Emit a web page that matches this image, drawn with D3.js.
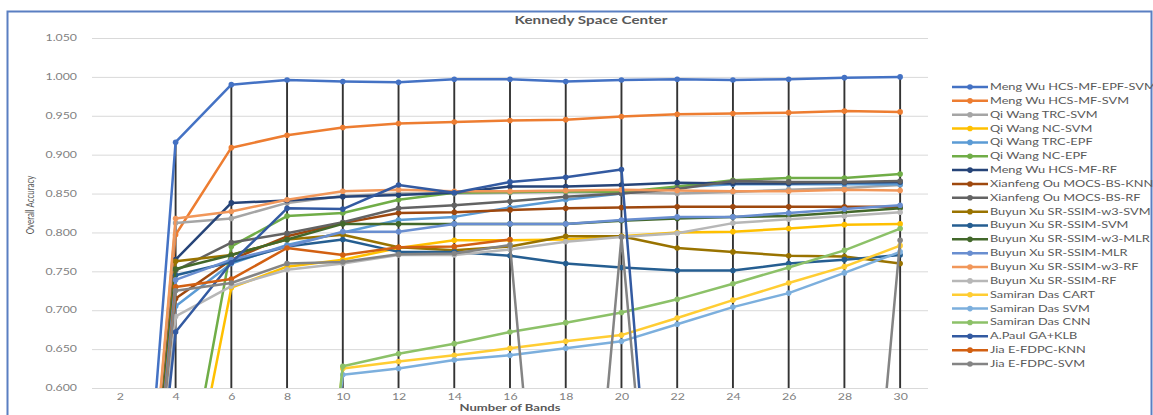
<!DOCTYPE html>
<html>
<head>
<meta charset="utf-8">
<script src="https://cdn.jsdelivr.net/npm/d3@7"></script>
<style>
  body { margin: 0; background: #fff; }
</style>
</head>
<body>
<div id="chart"></div>
<script>
// number of bands on the x axis
const bands = [2, 4, 6, 8, 10, 12, 14, 16, 18, 20, 22, 24, 26, 28, 30];
const yTicks = [0.6, 0.65, 0.7, 0.75, 0.8, 0.85, 0.9, 0.95, 1.0, 1.05];

// overall accuracy per method (null = empty cell)
const mengWuEpfSvm   = [0, 0.916, 0.990, 0.996, 0.994, 0.993, 0.997, 0.997, 0.994, 0.996, 0.997, 0.996, 0.997, 0.999, 1.000];
const mengWuSvm      = [0, 0.797, 0.909, 0.925, 0.935, 0.940, 0.942, 0.944, 0.945, 0.949, 0.952, 0.953, 0.954, 0.956, 0.955];
const qiWangTrcSvm   = [0, 0.812, 0.818, 0.838, 0.847, 0.850, 0.850, 0.851, 0.852, 0.851, 0.850, 0.852, 0.855, 0.857, 0.861];
const qiWangNcSvm    = [0, null, 0.729, 0.756, 0.765, 0.780, 0.790, 0.790, 0.791, 0.795, 0.800, 0.801, 0.805, 0.810, 0.811];
const qiWangTrcEpf   = [0, 0.705, 0.760, 0.784, 0.800, 0.816, 0.820, 0.832, 0.842, 0.850, 0.858, 0.862, 0.862, 0.862, 0.862];
const qiWangNcEpf    = [0, null, 0.782, 0.821, 0.825, 0.842, 0.851, 0.852, 0.853, 0.852, 0.859, 0.867, 0.870, 0.870, 0.875];
const mengWuRf       = [0, 0.765, 0.838, 0.841, 0.846, 0.848, 0.851, 0.859, 0.859, 0.861, 0.864, 0.863, 0.863, 0.864, 0.865];
const ouKnn          = [0, 0.715, 0.765, 0.795, 0.812, 0.825, 0.826, 0.829, 0.831, 0.832, 0.833, 0.833, 0.833, 0.833, 0.833];
const ouRf           = [0, 0.751, 0.787, 0.799, 0.813, 0.831, 0.835, 0.840, 0.846, 0.850, 0.856, 0.866, 0.865, 0.865, 0.866];
const xuW3Svm        = [0, 0.763, 0.771, 0.791, 0.797, 0.781, 0.777, 0.782, 0.795, 0.795, 0.780, 0.775, 0.770, 0.769, 0.760];
const xuSvm          = [0, 0.745, 0.762, 0.782, 0.791, 0.775, 0.775, 0.770, 0.760, 0.755, 0.751, 0.751, 0.760, 0.765, 0.771];
const xuW3Mlr        = [0, 0.753, 0.771, 0.791, 0.811, 0.811, 0.811, 0.811, 0.811, 0.815, 0.818, 0.820, 0.821, 0.826, 0.831];
const xuMlr          = [0, 0.739, 0.765, 0.782, 0.801, 0.801, 0.811, 0.811, 0.811, 0.816, 0.820, 0.820, 0.825, 0.830, 0.835];
const xuW3Rf         = [0, 0.818, 0.827, 0.842, 0.853, 0.855, 0.853, 0.853, 0.854, 0.855, 0.854, 0.853, 0.853, 0.855, 0.854];
const xuRf           = [0, 0.692, 0.731, 0.752, 0.760, 0.771, 0.771, 0.778, 0.788, 0.794, 0.799, 0.812, 0.817, 0.821, 0.826];
const dasCart        = [0, 0, 0, 0, 0.625, 0.634, 0.642, 0.651, 0.660, 0.668, 0.690, 0.713, 0.735, 0.756, 0.783];
const dasSvm         = [0, 0, 0, 0, 0.617, 0.625, 0.636, 0.642, 0.651, 0.660, 0.682, 0.704, 0.722, 0.748, 0.775];
const dasCnn         = [0, 0, 0, 0, 0.628, 0.644, 0.657, 0.672, 0.684, 0.697, 0.714, 0.734, 0.755, 0.777, 0.805];
const paulGaKlb      = [0, 0.672, 0.761, 0.831, 0.830, 0.861, 0.851, 0.865, 0.871, 0.881, 0, 0, 0, 0, 0];
const jiaKnn         = [0, 0.730, 0.740, 0.780, 0.771, 0.781, 0.782, 0.791, null, null, null, null, null, null, null];
const jiaSvm         = [0, 0.725, 0.735, 0.760, 0.762, 0.772, 0.773, 0.784, 0, 0.794, 0, 0, 0, 0, 0.790];

const seriesNames = [
    "Meng Wu HCS-MF-EPF-SVM", "Meng Wu HCS-MF-SVM", "Qi Wang TRC-SVM", "Qi Wang NC-SVM",
    "Qi Wang TRC-EPF", "Qi Wang NC-EPF", "Meng Wu HCS-MF-RF", "Xianfeng Ou MOCS-BS-KNN",
    "Xianfeng Ou MOCS-BS-RF", "Buyun Xu SR-SSIM-w3-SVM", "Buyun Xu SR-SSIM-SVM",
    "Buyun Xu SR-SSIM-w3-MLR", "Buyun Xu SR-SSIM-MLR", "Buyun Xu SR-SSIM-w3-RF",
    "Buyun Xu SR-SSIM-RF", "Samiran Das CART", "Samiran Das SVM", "Samiran Das CNN",
    "A.Paul GA+KLB", "Jia E-FDPC-KNN", "Jia E-FDPC-SVM"
];
const seriesValues = [
    mengWuEpfSvm, mengWuSvm, qiWangTrcSvm, qiWangNcSvm, qiWangTrcEpf, qiWangNcEpf,
    mengWuRf, ouKnn, ouRf, xuW3Svm, xuSvm, xuW3Mlr, xuMlr, xuW3Rf, xuRf,
    dasCart, dasSvm, dasCnn, paulGaKlb, jiaKnn, jiaSvm
];
const colors = [
    "#4472C4", "#ED7D31", "#A5A5A5", "#FFC000", "#5B9BD5", "#70AD47",
    "#264478", "#9E480E", "#636363", "#997300", "#255E91", "#43682B",
    "#698ED0", "#F1975A", "#B7B7B7", "#FFCD33", "#7CAFDD", "#8CC168",
    "#335AA1", "#D26012", "#848484"
];

const series = seriesNames.map((name, i) => ({
    name,
    color: colors[i],
    points: bands.map((b, j) => ({ band: b, value: seriesValues[i][j] }))
        .filter(p => p.value !== null)
}));

const width = 1153;
const height = 415;
const plot = { left: 92, right: 928, top: 38, bottom: 388 };
const font = "Lato, 'Open Sans', sans-serif";

// the source picture is stretched sideways, so text is widened to match
function stretch(sel, k) {
    sel.each(function() {
        const w = this.getComputedTextLength();
        d3.select(this).attr("textLength", w * k).attr("lengthAdjust", "spacingAndGlyphs");
    });
}

const svg = d3.select("#chart")
    .append("svg")
    .attr("width", width)
    .attr("height", height)
    .style("font-family", font);

svg.append("rect")
    .attr("x", 7.5).attr("y", 11.5)
    .attr("width", width - 9).attr("height", height)
    .attr("fill", "#fff")
    .attr("stroke", "#5a7fc2")
    .attr("stroke-width", 2);

const x = d3.scalePoint()
    .domain(bands)
    .range([plot.left, plot.right])
    .padding(0.5);

const y = d3.scaleLinear()
    .domain([0.6, 1.05])
    .range([plot.bottom, plot.top]);

svg.append("defs").append("clipPath")
    .attr("id", "plot-clip")
    .append("rect")
    .attr("x", plot.left).attr("y", plot.top)
    .attr("width", plot.right - plot.left)
    .attr("height", plot.bottom - plot.top);

// gridlines
svg.append("g")
    .attr("transform", `translate(${plot.left},0)`)
    .call(d3.axisLeft(y).tickValues(yTicks).tickSize(-(plot.right - plot.left)).tickFormat(""))
    .call(g => g.select(".domain").remove())
    .selectAll("line")
    .attr("stroke", "#d9d9d9")
    .attr("stroke-width", 1);

// y tick labels
const yAxis = svg.append("g")
    .attr("transform", `translate(${plot.left - 12},0)`)
    .call(d3.axisLeft(y).tickValues(yTicks).tickSize(0).tickFormat(d3.format(".3f")));
yAxis.select(".domain").remove();
yAxis.selectAll("text")
    .attr("fill", "#7f7f7f")
    .attr("font-size", "8.5px")
    .attr("font-family", font)
    .call(stretch, 1.45);

// x tick labels
const xAxis = svg.append("g")
    .attr("transform", `translate(0,${plot.bottom})`)
    .call(d3.axisBottom(x).tickSize(0).tickPadding(6));
xAxis.select(".domain").remove();
xAxis.selectAll("text")
    .attr("fill", "#7f7f7f")
    .attr("font-size", "8.5px")
    .attr("font-family", font)
    .call(stretch, 1.45);

// drop lines from the highest value down to the axis
const dropLines = bands.map((b, j) => ({
    band: b,
    top: d3.max(seriesValues, v => v[j] === null ? 0 : v[j])
})).filter(d => d.top > y.domain()[0]);

svg.append("g")
    .selectAll("line")
    .data(dropLines)
    .enter()
    .append("line")
    .attr("x1", d => x(d.band))
    .attr("x2", d => x(d.band))
    .attr("y1", d => y(d.top))
    .attr("y2", plot.bottom)
    .attr("stroke", "#333")
    .attr("stroke-width", 1.9);

const line = d3.line()
    .x(d => x(d.band))
    .y(d => y(d.value));

const seriesG = svg.append("g")
    .attr("clip-path", "url(#plot-clip)")
    .selectAll("g")
    .data(series)
    .enter()
    .append("g");

seriesG.append("path")
    .attr("d", d => line(d.points))
    .attr("fill", "none")
    .attr("stroke", d => d.color)
    .attr("stroke-width", 2.5)
    .attr("stroke-linejoin", "round");

seriesG.selectAll("circle")
    .data(d => d.points.filter(p => p.value >= 0.6).map(p => ({ ...p, color: d.color })))
    .enter()
    .append("circle")
    .attr("cx", d => x(d.band))
    .attr("cy", d => y(d.value))
    .attr("r", 2.8)
    .attr("fill", d => d.color);

// titles
svg.append("text")
    .attr("x", 591)
    .attr("y", 24)
    .attr("text-anchor", "middle")
    .attr("font-size", "10.5px")
    .attr("font-weight", "bold")
    .attr("fill", "#595959")
    .text("Kennedy Space Center")
    .call(stretch, 1.45);

svg.append("text")
    .attr("x", (plot.left + plot.right) / 2)
    .attr("y", 411)
    .attr("text-anchor", "middle")
    .attr("font-size", "9px")
    .attr("font-weight", "bold")
    .attr("fill", "#595959")
    .text("Number of Bands")
    .call(stretch, 1.45);

svg.append("text")
    .attr("transform", `translate(34,${(plot.top + plot.bottom) / 2 - 8}) rotate(-90)`)
    .attr("text-anchor", "middle")
    .attr("font-size", "11px")
    .attr("fill", "#595959")
    .text("Overall Accuracy")
    .call(stretch, 0.72);

// legend
const legend = svg.append("g")
    .selectAll("g")
    .data(series)
    .enter()
    .append("g")
    .attr("transform", (d, i) => `translate(952,${87 + i * 13.85})`);

legend.append("line")
    .attr("x1", 0).attr("x2", 36)
    .attr("stroke", d => d.color)
    .attr("stroke-width", 2.5);

legend.append("circle")
    .attr("cx", 18)
    .attr("r", 2.8)
    .attr("fill", d => d.color);

legend.append("text")
    .attr("x", 38)
    .attr("dy", "0.35em")
    .attr("font-size", "8.5px")
    .attr("fill", "#595959")
    .text(d => d.name)
    .call(stretch, 1.5);
</script>
</body>
</html>
